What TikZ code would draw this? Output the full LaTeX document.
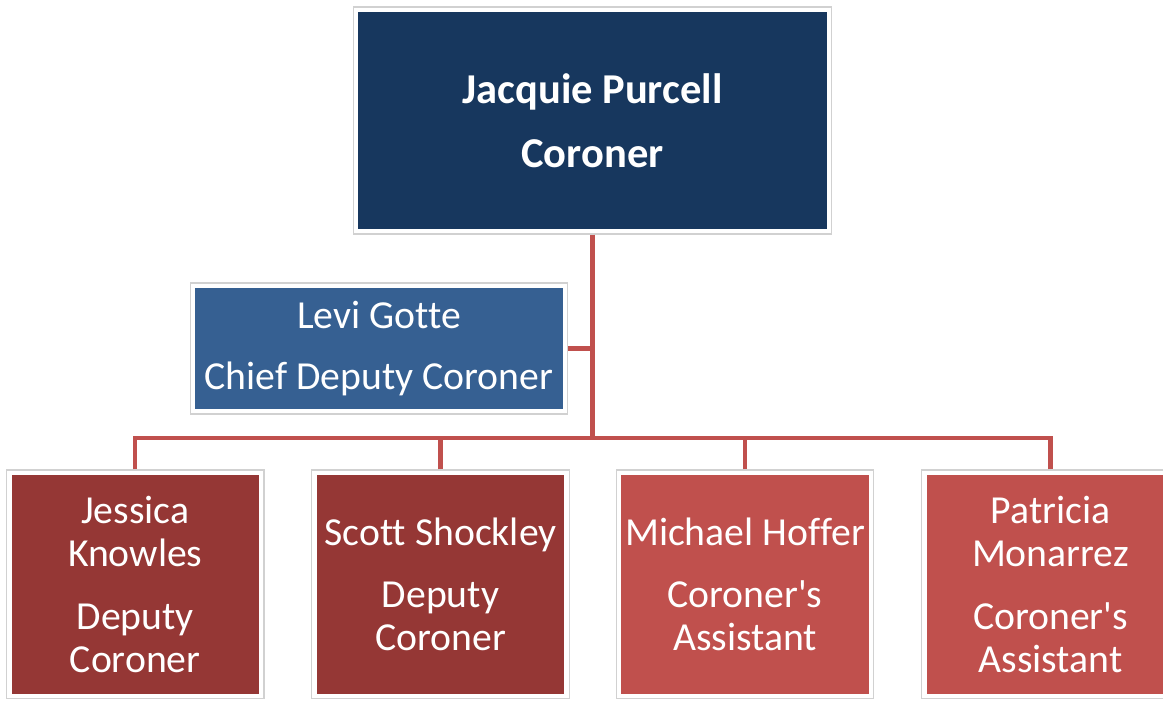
\documentclass[tikz,border=0pt]{standalone}
\usepackage{fontspec}
\setmainfont{Carlito}[Ligatures=NoCommon]
\usetikzlibrary{positioning,fit,backgrounds}
\definecolor{chiefnavy}{HTML}{17375E}
\definecolor{deputyblue}{HTML}{366092}
\definecolor{deputyred}{HTML}{953735}
\definecolor{assistred}{HTML}{C0504D}
\definecolor{linkred}{HTML}{C0504D}
\begin{document}
\begin{tikzpicture}[x=0.02cm,y=-0.02cm,
 card/.style={text=white,align=center,inner sep=0pt,outer sep=0pt,font=\fontsize{22.6}{24.5}\selectfont},
 staff/.style={card,minimum width=4.95cm,minimum height=4.38cm,anchor=north},
 frame/.style={draw=black!18,line width=.6pt,fill=white,inner sep=.1cm},
 link/.style={draw=linkred,line width=2.3pt}]
\useasboundingbox (0,0) rectangle (1163,700);
\clip (0,0) rectangle (1163,700);
\node[card,fill=chiefnavy,minimum width=9.38cm,minimum height=4.34cm,
 font=\bfseries\fontsize{24.2}{24.5}\selectfont] (jp) at (592.5,120.5) {Jacquie Purcell\\[12pt]Coroner};
\node[card,fill=deputyblue,minimum width=7.36cm,minimum height=2.42cm] (lg) at (379,348.5)
 {Levi Gotte\\[10pt]Chief Deputy Coroner};
\node[staff,fill=deputyred] (jk) at (135.25,475) {Jessica\\Knowles\\[11pt]Deputy\\Coroner};
\node[staff,fill=deputyred] (ss) at (440.5,475) {Scott Shockley\\[11pt]Deputy\\Coroner};
\node[staff,fill=assistred] (mh) at (745,475) {Michael Hoffer\\[11pt]Coroner\textquotesingle s\\Assistant};
\node[staff,fill=assistred] (pm) at (1050.5,475) {Patricia\\Monarrez\\[11pt]Coroner\textquotesingle s\\Assistant};
\begin{scope}[on background layer]
\foreach \n in {jp,lg,jk,ss,mh,pm} \node[frame,fit=(\n)] (\n-fr) {};
\end{scope}
\coordinate (bus) at (592.5,438);
\draw[link] (jp-fr.south) -- (bus);
\draw[link] (lg-fr.east) -- (lg-fr.east -| bus);
\foreach \n in {jk,ss,mh,pm} \draw[link] (\n-fr.north) |- (bus);
\end{tikzpicture}
\end{document}
